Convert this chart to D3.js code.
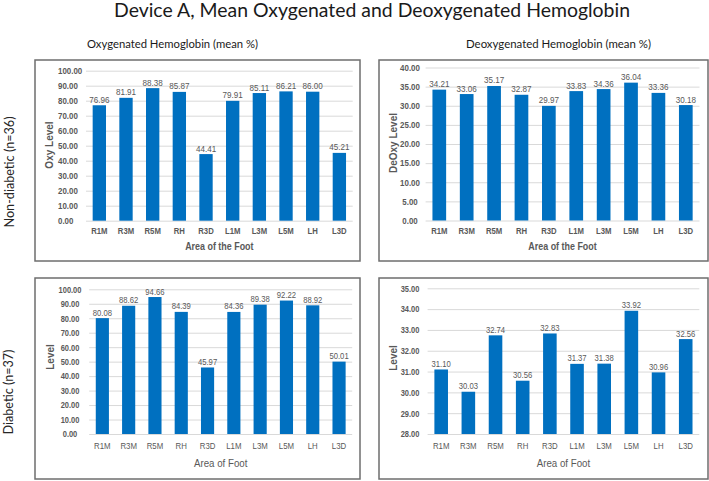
<!DOCTYPE html>
<html><head><meta charset="utf-8">
<script src="https://cdn.jsdelivr.net/npm/d3@7/dist/d3.min.js"></script>
<style>
html,body{margin:0;padding:0;background:#fff;}
svg{display:block;}
</style></head>
<body>
<svg id="chart" width="709" height="481"></svg>
<script>
// ---- data ----
const categories = ["R1M","R3M","R5M","RH","R3D","L1M","L3M","L5M","LH","L3D"];
const oxyNonDiabetic   = [76.96, 81.91, 88.38, 85.87, 44.41, 79.91, 85.11, 86.21, 86.00, 45.21];
const deoxyNonDiabetic = [34.21, 33.06, 35.17, 32.87, 29.97, 33.83, 34.36, 36.04, 33.36, 30.18];
const oxyDiabetic      = [80.08, 88.62, 94.66, 84.39, 45.97, 84.36, 89.38, 92.22, 88.92, 50.01];
const deoxyDiabetic    = [31.10, 30.03, 32.74, 30.56, 32.83, 31.37, 31.38, 33.92, 30.96, 32.56];
const oxyTicks = [0,10,20,30,40,50,60,70,80,90,100];
const deoxyNonDiabeticTicks = [0,5,10,15,20,25,30,35,40];
const deoxyDiabeticTicks = [28,29,30,31,32,33,34,35];
const chartTitle = "Device A, Mean Oxygenated and Deoxygenated Hemoglobin";
const columnTitles = ["Oxygenated Hemoglobin (mean %)", "Deoxygenated Hemoglobin (mean %)"];
const rowTitles = ["Non-diabetic (n=36)", "Diabetic (n=37)"];

// ---- layout / style ----
const svg = d3.select("#chart");
const BAR = "#0070c0", GRAY = "#595959", GRID = "#d9d9d9";
const ARIAL = "'Liberation Sans', Arial, sans-serif";
const CAL = "Lato, 'Open Sans', sans-serif";

function fitText(sel, w){ sel.attr("textLength", w).attr("lengthAdjust","spacingAndGlyphs"); return sel; }

svg.append("text").attr("x",114).attr("y",17).attr("font-family",CAL).attr("font-size",18.5)
  .attr("fill","#1a1a1a").text(chartTitle).call(fitText, 516);
svg.append("text").attr("x",87).attr("y",48).attr("font-family",CAL).attr("font-size",12)
  .attr("fill","#1a1a1a").text(columnTitles[0]).call(fitText, 171);
svg.append("text").attr("x",466).attr("y",48).attr("font-family",CAL).attr("font-size",12)
  .attr("fill","#1a1a1a").text(columnTitles[1]).call(fitText, 185);
svg.append("text").attr("transform","translate(14,172) rotate(-90)").attr("text-anchor","middle")
  .attr("font-family",CAL).attr("font-size",13.5).attr("fill","#262626").text(rowTitles[0]).call(fitText,111);
svg.append("text").attr("transform","translate(13,392) rotate(-90)").attr("text-anchor","middle")
  .attr("font-family",CAL).attr("font-size",13.5).attr("fill","#262626").text(rowTitles[1]).call(fitText,85);

const panels = [
  {box:[35,60,360,261], xr:[86,352.7], yr:[220.7,70.7], domain:[0,100], values:oxyNonDiabetic, ticks:oxyTicks,
   tickX:58, tickAnchor:"start", yTitle:"Oxy Level", yTitleX:49, yTitleY:145, xTitle:"Area of the Foot",
   xLabY:231, xTitleY:246, top:true},
  {box:[379,60,708,261], xr:[425.6,699.5], yr:[220.5,67.5], domain:[0,40], values:deoxyNonDiabetic, ticks:deoxyNonDiabeticTicks,
   tickX:410, tickAnchor:"middle", yTitle:"DeOxy Level", yTitleX:393, yTitleY:143, xTitle:"Area of the Foot",
   xLabY:231, xTitleY:246, top:true},
  {box:[35,278,360,479], xr:[89.2,352.2], yr:[434,289.3], domain:[0,100], values:oxyDiabetic, ticks:oxyTicks,
   tickX:70, tickAnchor:"middle", yTitle:"Level", yTitleX:50, yTitleY:357, xTitle:"Area of Foot",
   xLabY:446, xTitleY:463, top:false},
  {box:[379,278,708,479], xr:[427.6,699.3], yr:[434,288.3], domain:[28,35], values:deoxyDiabetic, ticks:deoxyDiabeticTicks,
   tickX:410, tickAnchor:"middle", yTitle:"Level", yTitleX:393, yTitleY:358, xTitle:"Area of Foot",
   xLabY:446, xTitleY:463, top:false}
];

panels.forEach(p => {
  const g = svg.append("g");
  const [x0,y0,x1,y1] = p.box;
  const x = d3.scaleBand().domain(categories).range(p.xr).paddingInner(0.5).paddingOuter(0.25);
  const y = d3.scaleLinear().domain(p.domain).range(p.yr);

  // frame
  g.append("rect").attr("x",x0).attr("y",y0).attr("width",x1-x0).attr("height",y1-y0)
    .attr("fill","#fff").attr("stroke","#6e6e6e").attr("stroke-width",1.5);

  // gridlines
  const grid = g.append("g").attr("transform",`translate(${p.xr[0]},0)`)
    .call(d3.axisRight(y).tickValues(p.ticks).tickSize(p.xr[1]-p.xr[0]).tickFormat(""));
  grid.select(".domain").remove();
  grid.selectAll("line").attr("stroke",GRID).attr("stroke-width",1);

  // y tick labels
  const sx = p.top ? 0.9 : 0.85;
  const ya = g.append("g").attr("transform",`translate(${p.tickX},0)`)
    .call(d3.axisLeft(y).tickValues(p.ticks).tickSize(0).tickPadding(0).tickFormat(d3.format(".2f")));
  ya.select(".domain").remove();
  ya.selectAll("text").attr("x",0).attr("text-anchor",p.tickAnchor).attr("transform",`scale(${sx},1)`)
    .attr("font-family",ARIAL).attr("font-size",8.8).attr("font-weight","bold").attr("fill",GRAY);

  // bars
  g.selectAll("rect.bar").data(p.values).join("rect").attr("class","bar")
    .attr("x",(d,i)=>x(categories[i])).attr("width",x.bandwidth())
    .attr("y",d=>y(d)).attr("height",d=>y(p.domain[0])-y(d)).attr("fill",BAR);

  // data labels
  g.selectAll("text.dl").data(p.values).join("text").attr("class","dl")
    .attr("transform",(d,i)=>`translate(${x(categories[i])+x.bandwidth()/2},${y(d)-2.5}) scale(${p.top?0.92:0.8},1)`)
    .attr("text-anchor","middle").attr("font-family",ARIAL).attr("font-size",p.top?8.8:9.6)
    .attr("fill",GRAY).text(d=>d3.format(".2f")(d));

  // x labels
  const xa = g.append("g").attr("transform",`translate(0,${p.xLabY})`)
    .call(d3.axisBottom(x).tickSize(0).tickPadding(0));
  xa.select(".domain").remove();
  xa.selectAll("text").attr("y",0).attr("dy","0.35em").attr("transform",`scale(${p.top?0.88:0.8},1)`)
    .attr("font-family",ARIAL).attr("font-size",p.top?8.8:9.8).attr("font-weight",p.top?"bold":"normal").attr("fill",GRAY);

  // axis titles
  g.append("text").attr("transform",`translate(${(p.xr[0]+p.xr[1])/2},${p.xTitleY}) scale(${p.top?0.85:0.9},1)`)
    .attr("text-anchor","middle").attr("dy","0.35em").attr("font-family",ARIAL)
    .attr("font-size",p.top?10.5:10.8).attr("font-weight",p.top?"bold":"normal").attr("fill",GRAY).text(p.xTitle);
  g.append("text").attr("transform",`translate(${p.yTitleX},${p.yTitleY}) rotate(-90)`)
    .attr("text-anchor","middle").attr("dy","0.35em").attr("font-family",ARIAL)
    .attr("font-size",10).attr("font-weight","bold").attr("fill",GRAY).text(p.yTitle);
});
</script>
</body></html>
